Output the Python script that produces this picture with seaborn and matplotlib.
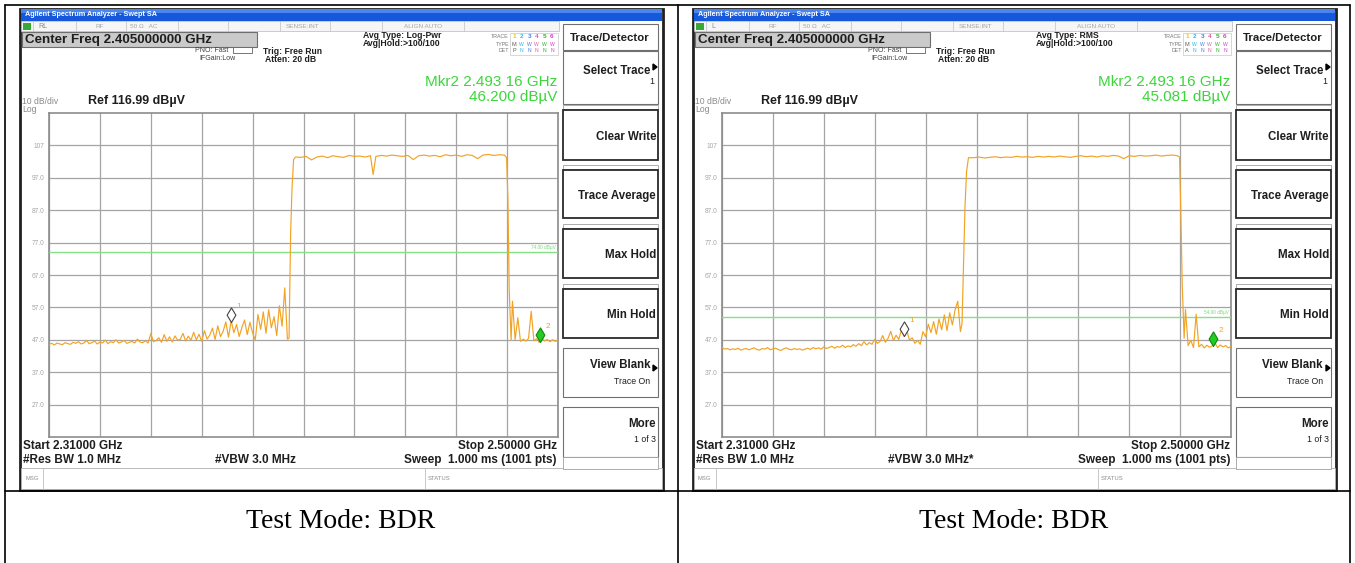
import numpy as np
import pandas as pd
import matplotlib
matplotlib.use('Agg')
import matplotlib.pyplot as plt
import seaborn as sns
from matplotlib.patches import Rectangle
from matplotlib.path import Path

W, H = 1355, 563

# sweep points, MHz (denser where the trace is busy)
freq_mhz = [
    2310, 2311, 2312, 2313, 2314, 2315, 2316, 2317, 2318, 2319,
    2320, 2321, 2322, 2323, 2324, 2325, 2326, 2327, 2328, 2329,
    2330, 2331, 2332, 2333, 2334, 2335, 2336, 2337, 2338, 2339,
    2340, 2341, 2342, 2343, 2344, 2345, 2346, 2347, 2348, 2349,
    2350, 2351, 2352, 2353, 2354, 2355, 2356, 2357, 2358, 2359,
    2360, 2361, 2362, 2363, 2364, 2365, 2366, 2367, 2368, 2369,
    2370, 2371, 2372, 2373, 2374, 2375, 2376, 2377, 2378, 2379,
    2380, 2381, 2382, 2383, 2384, 2385, 2386, 2387, 2388, 2389,
    2390, 2391, 2392, 2393, 2394, 2395, 2396, 2397, 2398, 2399,
    2399.6, 2400.2, 2400.7, 2401.3, 2402.0,
    2404, 2406, 2408, 2410, 2412, 2414, 2416, 2418, 2420, 2422, 2424, 2426, 2428, 2430, 2431,
    2432, 2434, 2436, 2438, 2440, 2442, 2444, 2446, 2448, 2450, 2452, 2454, 2456, 2458, 2460,
    2462, 2464, 2466, 2468, 2470, 2472, 2474, 2476, 2478, 2480,
    2480.8, 2481.3, 2481.8,
    2482.5, 2483, 2484, 2485, 2486, 2487, 2488, 2489, 2490, 2491, 2492, 2493, 2494, 2495,
    2496, 2497, 2498, 2499, 2500,
]

# left screen: Avg Type Log-Pwr, dBuV
level_logpwr = [
    45.6, 45.9, 45.4, 46.0, 45.7, 45.5, 46.1, 45.8, 45.6, 46.2,
    45.9, 46.4, 45.7, 46.0, 46.8, 45.8, 46.1, 46.6, 45.7, 46.3,
    46.0, 46.9, 45.8, 46.4, 46.1, 47.0, 46.0, 46.3, 46.8, 45.9,
    46.2, 46.5, 46.0, 47.2, 46.3, 46.1, 46.7, 46.0, 48.9, 46.4,
    46.8, 47.6, 46.2, 48.6, 46.5, 47.9, 46.3, 48.2, 46.9, 47.1,
    49.0, 46.6, 48.1, 46.9, 49.3, 47.0, 48.7, 46.5, 49.8, 47.2,
    48.4, 50.6, 47.1, 51.3, 48.0, 49.6, 52.5, 47.8, 52.9, 49.2,
    51.7, 48.0, 50.8, 53.1, 48.6, 52.4, 49.1, 47.0, 54.8, 50.2,
    55.6, 49.0, 56.3, 50.7, 54.1, 48.3, 57.5, 51.2, 63.0, 47.2,
    47.5, 80.0, 93.5, 102.6, 103.4,
    103.3, 103.6, 102.5, 103.4, 103.7, 103.2, 103.8, 103.5, 103.3, 103.9, 103.6, 103.7, 103.4, 103.8, 98.0,
    103.6, 103.9, 103.7, 104.0, 103.8, 103.6, 103.9, 102.6, 103.8, 104.0, 103.7, 103.9, 103.5, 104.1, 103.8,
    104.0, 103.6, 104.1, 103.9, 102.9, 104.0, 104.2, 103.9, 104.1, 104.0,
    103.2, 90.5, 62.0,
    46.8, 58.9, 47.0, 53.8, 46.5, 47.2, 46.6, 47.4, 55.8, 46.7, 47.3, 46.2, 47.5, 46.6,
    47.1, 46.4, 47.0, 46.5, 46.9,
]

# right screen: Avg Type RMS, dBuV
level_rms = [
    44.6, 44.1, 44.3, 43.9, 44.2, 44.0, 44.4, 43.8, 44.1, 44.3,
    43.9, 44.2, 44.5, 44.0, 43.8, 44.3, 44.1, 44.6, 43.9, 44.2,
    44.4, 44.0, 43.7, 44.2, 44.5, 44.1, 43.9, 44.3, 44.0, 44.2,
    43.8, 44.1, 44.4, 44.0, 44.6, 44.2, 44.5, 44.1, 44.8, 44.3,
    44.6, 45.0, 44.4, 44.9, 44.7, 45.3, 44.6, 45.1, 44.8, 45.5,
    45.0, 45.8, 45.2, 46.4, 45.4, 46.1, 45.6, 47.2, 45.9, 46.5,
    48.3, 46.2, 47.5, 49.6, 46.8, 48.4, 47.1, 50.2, 48.0, 49.7,
    46.9, 47.6, 45.9, 46.8, 45.6, 49.5, 47.9, 51.8, 49.2, 52.6,
    48.7, 53.4, 50.1, 54.7, 49.8, 55.3, 51.6, 56.2, 58.9, 49.5,
    52.0, 72.0, 88.0, 99.0, 103.2,
    103.2, 103.4, 103.1, 103.3, 103.5, 103.2, 103.4, 103.3, 103.6, 103.4, 103.5, 103.3, 103.6, 103.4, 103.5,
    103.6, 103.4, 103.7, 103.5, 103.3, 103.6, 103.8, 103.5, 103.7, 103.4, 103.8, 103.6, 103.9, 103.7, 102.9,
    103.8, 103.6, 103.9, 103.7, 103.8, 104.0, 103.7, 103.9, 104.0, 103.8,
    103.4, 85.0, 64.0,
    47.5, 56.4, 45.2, 46.8, 44.6, 54.9, 44.8, 45.6, 44.5, 45.3, 44.7, 45.1, 46.0, 44.6,
    45.4, 44.8, 45.2, 44.5, 44.9,
]

y_tick_labels = ['27.0', '37.0', '47.0', '57.0', '67.0', '77.0', '87.0', '97.0', '107']
ref_level = 116.99
start_mhz, stop_mhz = 2310, 2500

screens = [
    dict(levels=level_logpwr, rl='RL', avg='Avg Type: Log-Pwr', det='P', limit=74.0,
         limit_txt='74.00 dBµV', mkr1=(2377.9, 52.6), mkr2=(2493.16, 46.2),
         mkr2_val='46.200 dBµV', vbw='#VBW 3.0 MHz', caption='Test Mode: BDR'),
    dict(levels=level_rms, rl='L', avg='Avg Type: RMS', det='A', limit=54.0,
         limit_txt='54.00 dBµV', mkr1=(2378.0, 48.3), mkr2=(2493.16, 45.081),
         mkr2_val='45.081 dBµV', vbw='#VBW 3.0 MHz*', caption='Test Mode: BDR'),
]

sns.set_style('white')
plt.rcParams['font.family'] = ['Liberation Sans', 'DejaVu Sans']

fig = plt.figure(figsize=(W / 100, H / 100), dpi=100)
bg = fig.add_axes([0, 0, 1, 1])
bg.set_xlim(0, W)
bg.set_ylim(H, 0)
bg.axis('off')

DARK = '#1e1e1e'
GRAYTXT = '#a6a6a6'
GREEN = '#3cd63c'
ORANGE = '#f2a324'


def box(x0, y0, x1, y1, fc='white', ec='#808080', lw=0.8, z=1):
    bg.add_patch(Rectangle((x0, y0), x1 - x0, y1 - y0, facecolor=fc,
                           edgecolor=ec, linewidth=lw, zorder=z))


def txt(x, y, s, size, ha='left', color=DARK, weight='normal', **kw):
    bg.text(x, y, s, fontsize=size, ha=ha, va='center', color=color,
            fontweight=weight, zorder=5, **kw)


diamond = Path([(0, 0), (0.6, 1), (0, 2), (-0.6, 1), (0, 0)],
               [Path.MOVETO, Path.LINETO, Path.LINETO, Path.LINETO, Path.CLOSEPOLY])

trace_cols = ['#e6c619', '#2bb8e6', '#4a7de0', '#e060a0', '#30b030', '#d040d0']


def draw_screen(ox, s):
    # frame + title bar
    box(ox + 20, 9, ox + 663, 490, fc='white', ec='#202020', lw=2)
    box(ox + 21, 9, ox + 662, 13, fc='#4a86f0', ec='none', z=2)
    box(ox + 21, 13, ox + 662, 21, fc='#1658dc', ec='none', z=2)
    txt(ox + 25, 15, 'Agilent Spectrum Analyzer - Swept SA', 5.2, color='white', weight='bold')

    # status row
    box(ox + 21, 21, ox + 559, 31, fc='#f6f6f6', ec='#b8b8b8', lw=0.5)
    for sx in [33, 76, 126, 178, 228, 280, 330, 382, 464]:
        bg.plot([ox + sx, ox + sx], [21, 31], color='#c0c0c0', lw=0.5, zorder=3)
    box(ox + 23, 22.5, ox + 31, 29.5, fc='#38a838', ec='none', z=3)
    txt(ox + 38, 26, s['rl'], 5, color='#8a8a8a')
    txt(ox + 100, 26, 'RF', 4.6, ha='center', color=GRAYTXT)
    txt(ox + 130, 26, '50 Ω   AC', 4.6, color=GRAYTXT)
    txt(ox + 303, 26, 'SENSE:INT', 4.6, ha='center', color=GRAYTXT)
    txt(ox + 423, 26, 'ALIGN AUTO', 4.6, ha='center', color=GRAYTXT)

    # center freq + settings
    box(ox + 22, 32, ox + 257, 47, fc='#cacaca', ec='#6e6e6e', lw=0.8)
    txt(ox + 25, 40, 'Center Freq 2.405000000 GHz', 9.6, weight='bold')
    txt(ox + 228, 50, 'PNO: Fast', 5, ha='right', color='#404040')
    txt(ox + 235, 58, 'IFGain:Low', 5, ha='right', color='#404040')
    box(ox + 233, 47, ox + 252, 53, fc='white', ec='#606060', lw=0.6)
    txt(ox + 263, 51, 'Trig: Free Run', 6.2, weight='bold')
    txt(ox + 265, 59, 'Atten: 20 dB', 6.2, weight='bold')
    txt(ox + 363, 36, s['avg'], 6.2, weight='bold')
    txt(ox + 363, 44, 'Avg|Hold:>100/100', 6.2, weight='bold')

    # trace / type / det block
    for lab, yy in [('TRACE', 37), ('TYPE', 44), ('DET', 51)]:
        txt(ox + 509, yy, lab, 3.8, ha='right', color='#777777')
    box(ox + 510, 33, ox + 558, 55, fc='white', ec='#c8c8c8', lw=0.5)
    for i in range(6):
        txt(ox + 514 + i * 7.6, 37, str(i + 1), 4.6, ha='center', color=trace_cols[i], weight='bold')
        if i > 0:
            txt(ox + 514 + i * 7.6, 44, 'W', 3.6, ha='center', color=trace_cols[i])
            txt(ox + 514 + i * 7.6, 51, 'N', 3.6, ha='center', color=trace_cols[i])
    txt(ox + 514, 44, 'M', 4, ha='center', color='#5a5a5a')
    txt(ox + 514, 51, s['det'], 4, ha='center', color='#5a5a5a')

    # marker readout and ref
    txt(ox + 557, 82, 'Mkr2 2.493 16 GHz', 11, ha='right', color=GREEN)
    txt(ox + 557, 97, s['mkr2_val'], 11, ha='right', color=GREEN)
    txt(ox + 22, 102, '10 dB/div', 6.2, color='#8a8a8a')
    txt(ox + 22, 109, 'Log', 6.2, color='#8a8a8a')
    txt(ox + 88, 101, 'Ref 116.99 dBµV', 9, weight='bold')

    # bottom annotations
    txt(ox + 23, 446, 'Start 2.31000 GHz', 8.5, weight='bold')
    txt(ox + 557, 446, 'Stop 2.50000 GHz', 8.5, ha='right', weight='bold')
    txt(ox + 23, 460, '#Res BW 1.0 MHz', 8.5, weight='bold')
    txt(ox + 215, 460, s['vbw'], 8.5, weight='bold')
    txt(ox + 557, 460, 'Sweep  1.000 ms (1001 pts)', 8.5, ha='right', weight='bold')
    box(ox + 21, 468, ox + 662, 489, fc='white', ec='#b0b0b0', lw=0.6)
    for sx in [43, 425]:
        bg.plot([ox + sx, ox + sx], [468, 489], color='#c0c0c0', lw=0.6, zorder=3)
    txt(ox + 25, 478, 'MSG', 4.2, color='#8a8a8a')
    txt(ox + 428, 478, 'STATUS', 4.2, color='#8a8a8a')

    # softkeys
    box(ox + 563, 24, ox + 658, 50, ec='#707070', lw=0.8)
    txt(ox + 610, 38, 'Trace/Detector', 8.2, ha='center', weight='bold')
    box(ox + 563, 51, ox + 658, 104, ec='#707070', lw=0.8)
    txt(ox + 650, 71, 'Select Trace', 8.3, ha='right', weight='bold')
    txt(ox + 654, 82, '1', 6.3, ha='right')
    bg.fill([ox + 653, ox + 657, ox + 653], [64, 67, 70], color='black', zorder=5)
    for name, t, b in [('Clear Write', 110, 160), ('Trace Average', 170, 218),
                       ('Max Hold', 229, 278), ('Min Hold', 289, 338)]:
        box(ox + 563, t - 5, ox + 658, t - 1, fc='white', ec='#a0a0a0', lw=0.6)
        box(ox + 563, t, ox + 658, b, ec='#2a2a2a', lw=1.3)
        txt(ox + 656, (t + b) / 2 + 2, name, 8.3, ha='right', weight='bold')
    box(ox + 563, 348, ox + 658, 397, ec='#707070', lw=0.8)
    txt(ox + 650, 365, 'View Blank', 8.3, ha='right', weight='bold')
    txt(ox + 650, 382, 'Trace On', 6.3, ha='right')
    bg.fill([ox + 653, ox + 657, ox + 653], [365, 368, 371], color='black', zorder=5)
    box(ox + 563, 407, ox + 658, 457, ec='#707070', lw=0.8)
    txt(ox + 656, 424, 'More', 8.3, ha='right', weight='bold')
    txt(ox + 656, 440, '1 of 3', 6.3, ha='right')
    box(ox + 563, 457, ox + 658, 469, ec='#a0a0a0', lw=0.6)

    # graticule and trace
    px0, px1, py0, py1 = ox + 49, ox + 558, 113, 437
    ax = fig.add_axes([px0 / W, 1 - py1 / H, (px1 - px0) / W, (py1 - py0) / H])
    df = pd.DataFrame({'freq': freq_mhz, 'level': s['levels']})
    sns.lineplot(data=df, x='freq', y='level', ax=ax, color=ORANGE, linewidth=0.85,
                 estimator=None, sort=False, zorder=4)
    ax.set_xlim(start_mhz, stop_mhz)
    ax.set_ylim(ref_level - 100, ref_level)
    ax.set_xticks([start_mhz + (stop_mhz - start_mhz) * i / 10 for i in range(11)])
    ax.set_xticklabels([])
    ax.set_yticks([ref_level - 90 + 10 * i for i in range(9)])
    ax.set_yticklabels(y_tick_labels)
    ax.tick_params(length=0, labelsize=4.8, labelcolor=GRAYTXT, pad=3)
    ax.grid(True, color='#a4a4a4', linewidth=0.9)
    ax.set_xlabel('')
    ax.set_ylabel('')
    for sp in ax.spines.values():
        sp.set_color('#8c8c8c')
        sp.set_linewidth(1.2)
    ax.axhline(s['limit'], color='#86e086', linewidth=1.0, zorder=3)
    ax.text(stop_mhz - 0.8, s['limit'] + 0.6, s['limit_txt'], fontsize=3.4,
            color='#7ad87a', ha='right', va='bottom')
    f1, l1 = s['mkr1']
    f2, l2 = s['mkr2']
    ax.plot([f1], [l1], marker=diamond, markersize=21, mfc='white', mec='#444444',
            mew=0.8, ls='none', zorder=6)
    ax.plot([f2], [l2], marker=diamond, markersize=21, mfc='#22cc22', mec='#118811',
            mew=0.8, ls='none', zorder=6)
    ax.annotate('1', (f1, l1), xytext=(4, 10), textcoords='offset points',
                fontsize=6, color=ORANGE)
    ax.annotate('2', (f2, l2), xytext=(4, 10), textcoords='offset points',
                fontsize=6, color=ORANGE)

    # caption cell
    txt(ox + 341, 521, s['caption'], 20, ha='center', color='black',
        family=['Liberation Serif', 'DejaVu Serif'])


for k, s in enumerate(screens):
    draw_screen(k * 673, s)

# table lines
lc = 'black'
bg.plot([5, 1350], [5, 5], color=lc, lw=1.2, zorder=6)
bg.plot([5, 1350], [491, 491], color=lc, lw=1.2, zorder=6)
for xx in [5, 678, 1350]:
    bg.plot([xx, xx], [5, 563], color=lc, lw=1.2, zorder=6)

fig.savefig('out.png', dpi=100)
